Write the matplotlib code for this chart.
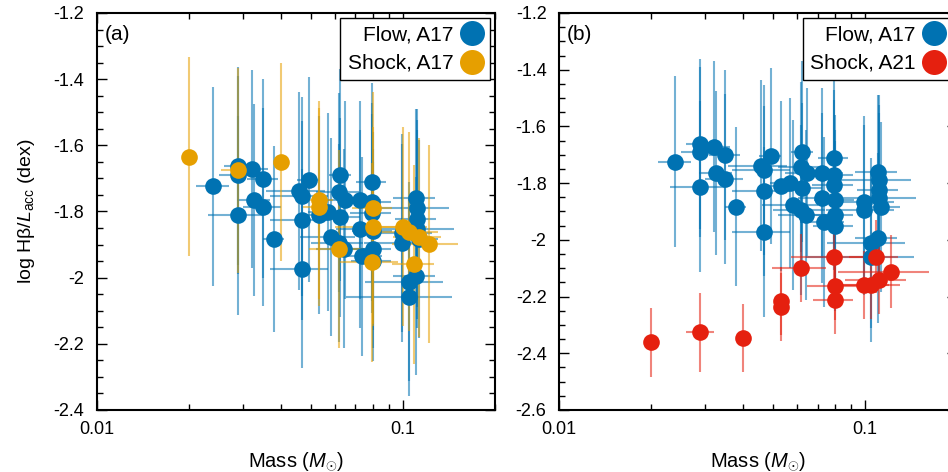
import matplotlib
matplotlib.use("Agg")
import matplotlib.pyplot as plt
from matplotlib.ticker import FuncFormatter, NullFormatter, MultipleLocator

plt.rcParams['font.family'] = 'Liberation Sans'
plt.rcParams['mathtext.fontset'] = 'custom'
plt.rcParams['mathtext.rm'] = 'Liberation Sans'
plt.rcParams['mathtext.it'] = 'Liberation Sans:italic'
plt.rcParams['axes.unicode_minus'] = False

# Flow, A17 (same points in both panels)
flow_m = [0.0240, 0.0290, 0.0290, 0.0321, 0.0350, 0.0290, 0.0327, 0.0350, 0.0379, 0.0456,
          0.0468, 0.0492, 0.0468, 0.0468, 0.0531, 0.0571, 0.0625, 0.0620, 0.0648, 0.0625,
          0.0580, 0.0620, 0.0641, 0.0726, 0.0793, 0.0793, 0.0793, 0.0726, 0.0800, 0.0735,
          0.0796, 0.0796, 0.0996, 0.0996, 0.1100, 0.1114, 0.1114, 0.1114, 0.1129, 0.1100,
          0.1050, 0.1050]
flow_y = [-1.724, -1.662, -1.689, -1.671, -1.701, -1.812, -1.765, -1.786, -1.883, -1.738,
          -1.754, -1.704, -1.827, -1.973, -1.810, -1.801, -1.689, -1.742, -1.765, -1.818,
          -1.877, -1.895, -1.912, -1.765, -1.712, -1.771, -1.806, -1.853, -1.859, -1.936,
          -1.912, -1.951, -1.865, -1.895, -1.760, -1.789, -1.824, -1.853, -1.883, -1.995,
          -2.012, -2.059]
flow_merr = [0.003, 0.003, 0.004, 0.004, 0.004, 0.006, 0.004, 0.005, 0.003, 0.010,
             0.010, 0.004, 0.010, 0.010, 0.008, 0.008, 0.005, 0.010, 0.010, 0.010,
             0.012, 0.012, 0.012, 0.012, 0.009, 0.012, 0.012, 0.012, 0.012, 0.012,
             0.012, 0.012, 0.025, 0.025, 0.017, 0.030, 0.017, 0.035, 0.017, 0.017,
             0.030, 0.040]
flow_yerr = [0.30, 0.30, 0.30, 0.30, 0.30, 0.30, 0.29, 0.30, 0.28, 0.30,
             0.30, 0.31, 0.30, 0.30, 0.30, 0.30, 0.32, 0.30, 0.30, 0.30,
             0.30, 0.30, 0.30, 0.30, 0.30, 0.30, 0.30, 0.30, 0.30, 0.30,
             0.30, 0.30, 0.30, 0.30, 0.27, 0.30, 0.30, 0.30, 0.30, 0.30,
             0.30, 0.30]

# Shock, A17 (panel a)
shock17_m = [0.0200, 0.0290, 0.0400, 0.0532, 0.0532, 0.0618, 0.0800, 0.0800, 0.0791, 0.0998,
             0.1050, 0.1130, 0.1220, 0.1090]
shock17_y = [-1.634, -1.675, -1.651, -1.765, -1.787, -1.914, -1.790, -1.846, -1.954, -1.846,
             -1.861, -1.878, -1.898, -1.960]
shock17_merr = [0.0, 0.0035, 0.0, 0.006, 0.006, 0.0125, 0.012, 0.020, 0.017, 0.020,
                0.025, 0.020, 0.030, 0.017]
shock17_yerr = [0.30, 0.31, 0.30, 0.30, 0.30, 0.30, 0.35, 0.30, 0.30, 0.30,
                0.30, 0.30, 0.30, 0.30]

# Shock, A21 (panel b)
shock21_m = [0.0200, 0.0290, 0.0400, 0.0530, 0.0530, 0.0620, 0.0793, 0.0796, 0.0796, 0.1086,
             0.0995, 0.1050, 0.1110, 0.1217]
shock21_y = [-2.362, -2.326, -2.347, -2.215, -2.238, -2.100, -2.059, -2.163, -2.212, -2.059,
             -2.159, -2.159, -2.141, -2.112]
shock21_merr = [0.0, 0.003, 0.0, 0.0, 0.0, 0.0125, 0.022, 0.015, 0.012, 0.020,
                0.020, 0.025, 0.025, 0.040]
shock21_yerr = [0.12, 0.14, 0.12, 0.12, 0.12, 0.12, 0.12, 0.12, 0.12, 0.13,
                0.12, 0.12, 0.12, 0.13]

blue = '#0072b2'
orange = '#e69f00'
red = '#e5200f'

fig = plt.figure(figsize=(9.48, 4.72), dpi=100)
ax1 = fig.add_axes([0.1023, 0.1314, 0.4198, 0.8411])
ax2 = fig.add_axes([0.5897, 0.1314, 0.4198, 0.8411])


def draw(ax, m, y, merr, yerr, color, label):
    ax.errorbar(m, y, xerr=merr, yerr=yerr, fmt='none', ecolor=color,
                elinewidth=1.5, capsize=0, alpha=0.55, zorder=2)
    h, = ax.plot(m, y, 'o', ms=12, color=color, mec='none', label=label, zorder=3)
    return h


h1 = draw(ax1, flow_m, flow_y, flow_merr, flow_yerr, blue, 'Flow, A17')
h2 = draw(ax1, shock17_m, shock17_y, shock17_merr, shock17_yerr, orange, 'Shock, A17')
h3 = draw(ax2, flow_m, flow_y, flow_merr, flow_yerr, blue, 'Flow, A17')
h4 = draw(ax2, shock21_m, shock21_y, shock21_merr, shock21_yerr, red, 'Shock, A21')

for ax, ylo, tag, hs in [(ax1, -2.4, '(a)', [h1, h2]), (ax2, -2.6, '(b)', [h3, h4])]:
    ax.set_xscale('log')
    ax.set_xlim(0.01, 0.2)
    ax.set_ylim(ylo, -1.2)
    ax.set_xticks([0.01, 0.1])
    ax.xaxis.set_major_formatter(FuncFormatter(lambda v, p: '%g' % v))
    ax.xaxis.set_minor_formatter(NullFormatter())
    ax.yaxis.set_major_locator(MultipleLocator(0.2))
    ax.yaxis.set_minor_locator(MultipleLocator(0.05))
    ax.yaxis.set_major_formatter(FuncFormatter(lambda v, p: '%g' % round(v, 2)))
    ax.tick_params(which='both', direction='in', top=True, right=True, labelsize=13)
    ax.tick_params(which='major', length=7, width=1)
    ax.tick_params(which='minor', length=4, width=1)
    ax.tick_params(axis='y', pad=9)
    ax.tick_params(axis='x', pad=8)
    for s in ax.spines.values():
        s.set_linewidth(1.5)
    ax.set_xlabel(r'Mass ($M_{\odot}$)', fontsize=14.5, labelpad=9)
    ax.text(0.02, 0.945, tag, transform=ax.transAxes, fontsize=15, va='center', ha='left')
    leg = ax.legend(handles=hs, loc='upper right', fontsize=15, markerfirst=False,
                    markerscale=1.5, handlelength=1.0, handletextpad=0.4,
                    borderaxespad=0.25, borderpad=0.35, labelspacing=0.45,
                    fancybox=False, framealpha=1, edgecolor='black')
    leg.get_frame().set_linewidth(1.0)

ax1.set_ylabel('log Hβ/$L_{\\rm acc}$ (dex)', fontsize=14, labelpad=12)

fig.savefig('out.png', dpi=100)
